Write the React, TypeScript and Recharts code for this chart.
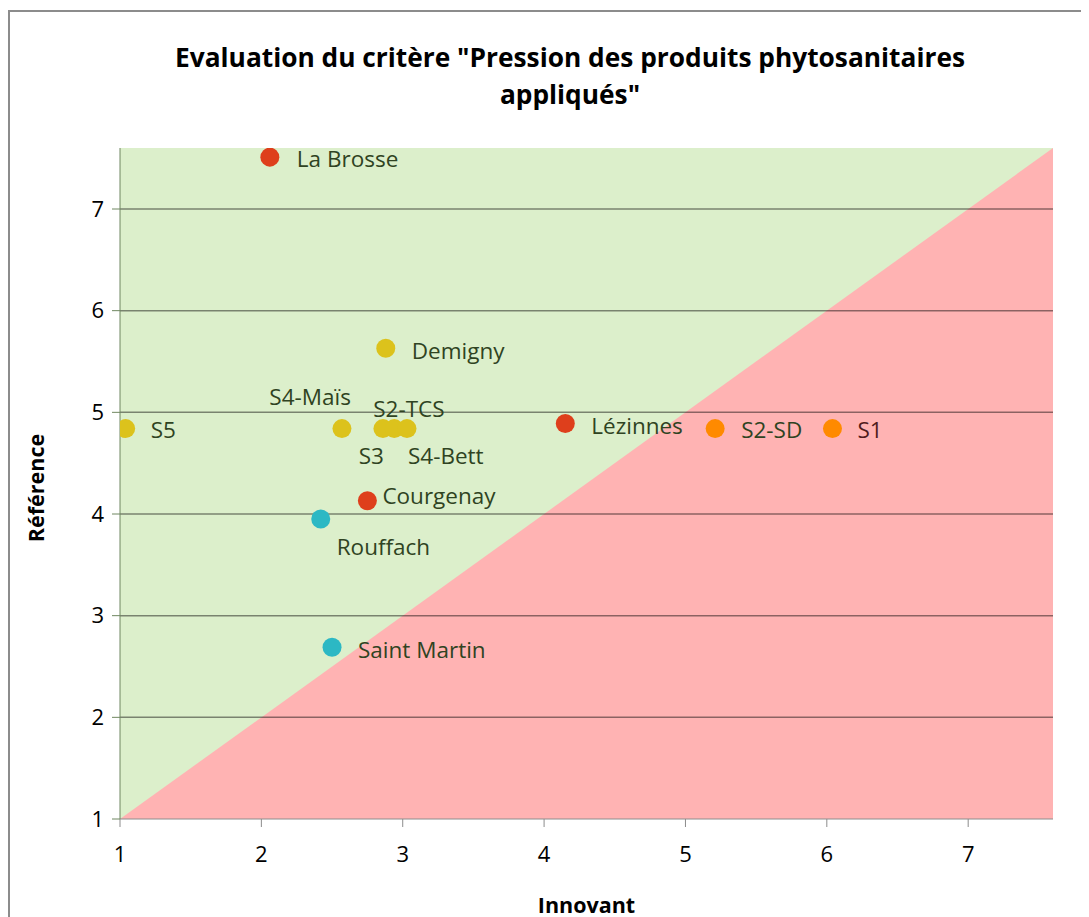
import React from 'react';
import {
  ScatterChart,
  Scatter,
  XAxis,
  YAxis,
  ReferenceArea,
  ReferenceLine,
} from 'recharts';

// valeurs
const sites = ['La Brosse', 'Demigny', 'S5', 'S4-Maïs', 'S3', 'S2-TCS', 'S4-Bett', 'Lézinnes', 'S2-SD', 'S1', 'Courgenay', 'Rouffach', 'Saint Martin'];
const innovant = [2.06, 2.88, 1.04, 2.57, 2.86, 2.94, 3.03, 4.15, 5.21, 6.04, 2.75, 2.42, 2.5];
const reference = [7.51, 5.63, 4.84, 4.84, 4.84, 4.84, 4.84, 4.89, 4.84, 4.84, 4.13, 3.95, 2.69];
const groupe = ['rouge', 'jaune', 'jaune', 'jaune', 'jaune', 'jaune', 'jaune', 'rouge', 'orange', 'orange', 'rouge', 'cyan', 'cyan'];
const ticks = [1, 2, 3, 4, 5, 6, 7];
const gridLevels = [2, 3, 4, 5, 6, 7];
const axisMax = 7.6;

const colors: Record<string, string> = {
  rouge: '#de3f1c',
  orange: '#ff8a00',
  jaune: '#dcc21c',
  cyan: '#2cb8c4',
};

// décalage des étiquettes par rapport au point
const labelOffset: Record<string, [number, number, 'start' | 'end']> = {
  'La Brosse': [27, 1, 'start'],
  Demigny: [26, 2, 'start'],
  S5: [25, 1, 'start'],
  'S4-Maïs': [9, -32, 'end'],
  S3: [1, 27, 'end'],
  'S2-TCS': [-21, -20, 'start'],
  'S4-Bett': [1, 27, 'start'],
  Lézinnes: [26, 2, 'start'],
  'S2-SD': [26, 1, 'start'],
  S1: [25, 1, 'start'],
  Courgenay: [15, -5, 'start'],
  Rouffach: [16, 27, 'start'],
  'Saint Martin': [26, 2, 'start'],
};

const points = sites.map((name, i) => ({
  name,
  x: innovant[i],
  y: reference[i],
  g: groupe[i],
}));

const font = 'Open Sans, sans-serif';

const PinkTriangle = (props: any) => {
  const { x, y, width, height } = props;
  return (
    <polygon
      points={`${x},${y + height} ${x + width},${y + height} ${x + width},${y}`}
      fill="#ffb3b3"
    />
  );
};

const Dot = (props: any) => {
  const { cx, cy, payload } = props;
  const [dx, dy, anchor] = labelOffset[payload.name];
  const inPink = payload.x > payload.y + 0.4;
  return (
    <g>
      <text
        x={cx + dx}
        y={cy + dy}
        textAnchor={anchor}
        dominantBaseline="central"
        fontFamily={font}
        fontSize={22.5}
        fill={inPink ? '#4f1c1c' : '#2f4322'}
      >
        {payload.name}
      </text>
      <circle cx={cx} cy={cy} r={9.5} fill={colors[payload.g]} />
    </g>
  );
};

export default function App() {
  const groups = ['rouge', 'orange', 'jaune', 'cyan'];
  return (
    <div style={{ position: 'relative', width: 1081, height: 909, fontFamily: font }}>
      <div
        style={{
          position: 'absolute',
          left: 0,
          top: 2,
          width: 1081,
          height: 907,
          borderLeft: '2px solid #8c8c8c',
          borderTop: '2px solid #8c8c8c',
          boxSizing: 'border-box',
        }}
      />
      <div
        style={{
          position: 'absolute',
          left: 112,
          width: 900,
          top: 31,
          textAlign: 'center',
          fontWeight: 700,
          fontSize: 26.3,
          lineHeight: '37px',
          color: '#000',
        }}
      >
        Evaluation du critère "Pression des produits phytosanitaires
        <br />
        appliqués"
      </div>
      <ScatterChart
        width={1081}
        height={909}
        margin={{ top: 140, right: 36, bottom: 38, left: 52 }}
        style={{ position: 'absolute', left: 0, top: 0 }}
      >
        <XAxis
          type="number"
          dataKey="x"
          domain={[1, axisMax]}
          ticks={ticks}
          allowDataOverflow
          height={60}
          tickSize={8}
          tickMargin={19}
          stroke="#8c8c8c"
          tick={{ fill: '#000', fontSize: 22, fontFamily: font }}
        />
        <YAxis
          type="number"
          dataKey="y"
          domain={[1, axisMax]}
          ticks={ticks}
          allowDataOverflow
          width={60}
          tickSize={8}
          tickMargin={8}
          stroke="#6f8660"
          tick={{ fill: '#000', fontSize: 22, fontFamily: font }}
        />
        <ReferenceArea x1={1} x2={axisMax} y1={1} y2={axisMax} fill="#dcefcb" fillOpacity={1} stroke="none" />
        <ReferenceArea
          x1={1}
          x2={axisMax}
          y1={1}
          y2={axisMax}
          shape={<PinkTriangle />}
        />
        {gridLevels.map((v) => (
          <ReferenceLine key={v} y={v} stroke="#000" strokeOpacity={0.45} strokeWidth={1.5} />
        ))}
        {groups.map((g) => (
          <Scatter
            key={g}
            data={points.filter((p) => p.g === g)}
            fill={colors[g]}
            shape={<Dot />}
            isAnimationActive={false}
          />
        ))}
      </ScatterChart>
      <div
        style={{
          position: 'absolute',
          left: 27,
          top: 480,
          transform: 'translate(-50%, -50%) rotate(-90deg)',
          fontWeight: 700,
          fontSize: 21.5,
          whiteSpace: 'nowrap',
        }}
      >
        Référence
      </div>
      <div
        style={{
          position: 'absolute',
          left: 112,
          width: 933,
          top: 882,
          textAlign: 'center',
          fontWeight: 700,
          fontSize: 21.5,
        }}
      >
        Innovant
      </div>
    </div>
  );
}
